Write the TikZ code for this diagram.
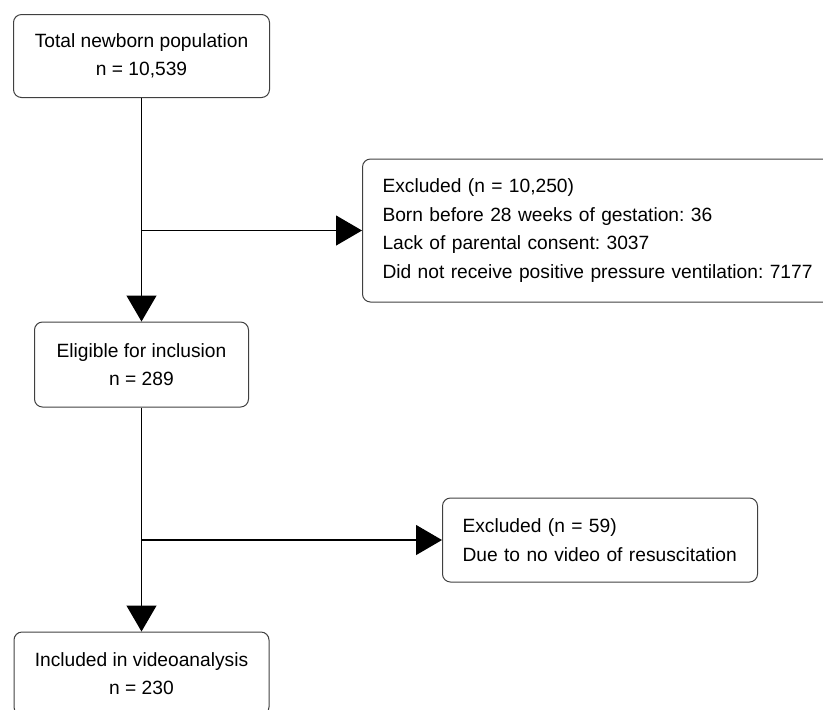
\documentclass[tikz,border=0pt]{standalone}
\usepackage{fontspec}
\setmainfont{Liberation Sans}
\usetikzlibrary{arrows.meta}
\frenchspacing
\begin{document}
\begin{tikzpicture}[
    x=0.5pt, y=-0.5pt,
    every node/.style={font=\fontsize{9.6}{14.25}\selectfont},
    box/.style={draw=black!75, line width=0.5pt, rounded corners=4pt, align=center, inner sep=0pt},
    excl/.style={box, align=left, inner xsep=10pt, anchor=west},
    flow/.style={-{Triangle[length=13pt,width=15pt]}, line width=0.6pt},
]
\useasboundingbox (0,0) rectangle (823,709);
\node[box, minimum width=128pt, minimum height=41.5pt] (total) at (141.5,56) {Total newborn population\\n = 10,539};
\node[excl, minimum height=71.5pt, text width=240pt] (excl1) at (362,230.5) {Excluded (n = 10,250)\\Born before 28 weeks of gestation: 36\\Lack of parental consent: 3037\\Did not receive positive pressure ventilation: 7177};
\node[box, minimum width=107pt, minimum height=42.5pt] (eligible) at (141.5,364.5) {Eligible for inclusion\\n = 289};
\node[excl, minimum height=42pt, text width=137.5pt] (excl2) at (442,540) {Excluded (n = 59)\\Due to no video of resuscitation};
\node[box, minimum width=127.5pt, minimum height=41.5pt] (included) at (141.5,673.5) {Included in videoanalysis\\n = 230};
\coordinate (split1) at (total.south |- excl1.west);
\coordinate (split2) at (eligible.south |- excl2.west);
\draw[flow] (total) -- (eligible);
\draw[flow] (split1) -- (excl1);
\draw[flow] (eligible) -- (included);
\draw[flow] (split2) -- (excl2);
\end{tikzpicture}
\end{document}
